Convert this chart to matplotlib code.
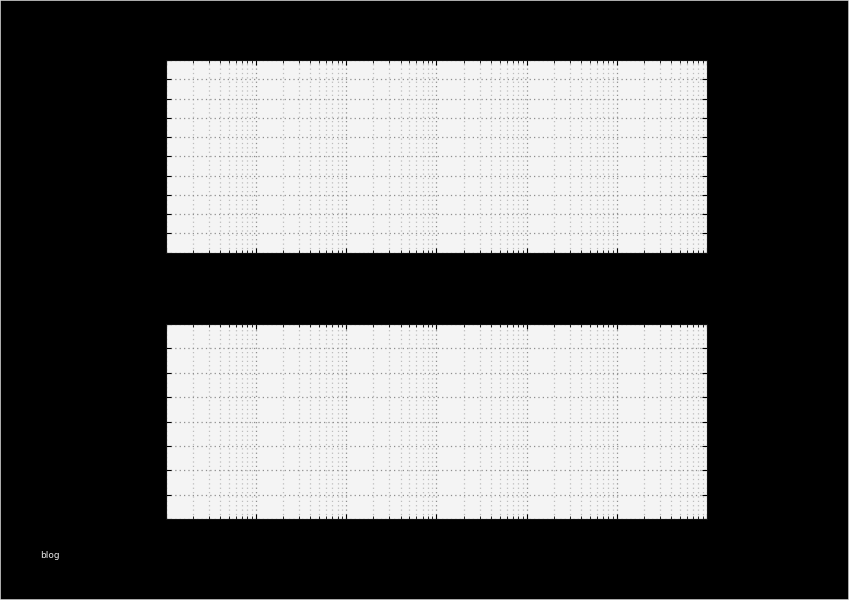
import numpy as np
import matplotlib
matplotlib.use('Agg')
import matplotlib.pyplot as plt
from matplotlib.patches import Rectangle

# axis settings (labels are black on black, so they barely show)
freq_limits = [1e-1, 1e5]
mag_ticks = [-100, -90, -80, -70, -60, -50, -40, -30, -20, -10, 0]
phase_ticks = [-360, -315, -270, -225, -180, -135, -90, -45, 0]
title_text = 'Bode Diagram'
mag_label = 'Magnitude (dB)'
phase_label = 'Phase (deg)'
freq_label = 'Frequency (rad/s)'
watermark = 'blog'

fig = plt.figure(figsize=(8.49, 6.0), dpi=100, facecolor='black')

ax_mag = fig.add_axes([166 / 849, 1 - 252.5 / 600, 541 / 849, 192.5 / 600])
ax_ph = fig.add_axes([166 / 849, 1 - 519 / 600, 541 / 849, 195 / 600])


def style_axis(ax, ticks):
    ax.set_facecolor('#f4f4f4')
    ax.set_xscale('log')
    ax.set_xlim(freq_limits)
    ax.set_ylim(ticks[0], ticks[-1])
    ax.set_yticks(ticks)
    ax.grid(True, which='major', linestyle=(0, (1, 2.5)), color='#8f8f8f', linewidth=0.9)
    ax.grid(True, which='minor', axis='x', linestyle=(0, (1, 2.5)), color='#bdbdbd', linewidth=0.9)
    ax.tick_params(which='both', direction='in', colors='black', labelcolor='black',
                   top=True, right=True, labelsize=8)
    for sp in ax.spines.values():
        sp.set_color('#111111')


style_axis(ax_mag, mag_ticks)
style_axis(ax_ph, phase_ticks)

ax_mag.set_title(title_text, color='black', fontsize=10)
ax_mag.set_ylabel(mag_label, color='black', fontsize=9)
ax_ph.set_ylabel(phase_label, color='black', fontsize=9)
ax_ph.set_xlabel(freq_label, color='black', fontsize=9)

# thin light border around the picture
fig.patches.append(Rectangle((0, 0), 1, 1, transform=fig.transFigure, fill=False,
                             edgecolor='#cfcfcf', linewidth=1.2))

fig.text(40 / 849, 1 - 555 / 600, watermark, color='#e8e8e8', fontsize=6.5,
         va='center', ha='left')

fig.savefig('out.png', dpi=100, facecolor='black')
